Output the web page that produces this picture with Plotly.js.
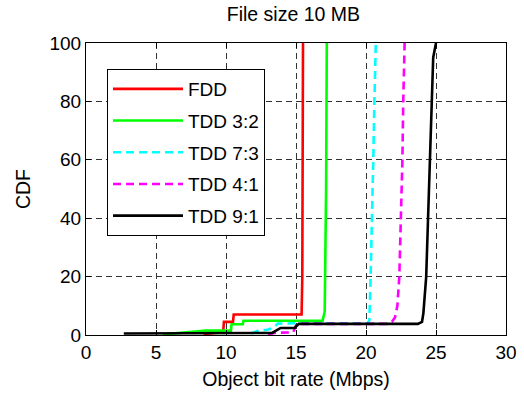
<!DOCTYPE html>
<html>
<head>
<meta charset="utf-8">
<script src="https://cdn.plot.ly/plotly-3.0.1.min.js"></script>
<style>html,body{margin:0;padding:0;background:#fff;}#chart{width:524px;height:396px;}</style>
</head>
<body>
<div id="chart"></div>
<script>
// Series names
const seriesNames = ["FDD", "TDD 3:2", "TDD 7:3", "TDD 4:1", "TDD 9:1"];

// FDD
const fddX = [8.4, 9.3, 9.8, 9.85, 10.5, 10.55, 15.4, 15.45, 15.5];
const fddY = [0.3, 0.7, 1.0, 4.5, 4.5, 7.0, 7.0, 20, 100];

// TDD 3:2
const tdd32X = [5.5, 8.6, 10.35, 10.4, 11.2, 11.25, 16.9, 17.05, 17.15, 17.2];
const tdd32Y = [0.2, 1.5, 1.5, 3.7, 3.7, 4.9, 4.9, 8, 50, 100];

// TDD 7:3
const tdd73X = [11.8, 12.4, 12.9, 13.4, 13.7, 14.8, 20.1, 20.24, 20.33, 20.45, 20.52, 20.6, 20.7];
const tdd73Y = [0.5, 1.7, 1.7, 2.5, 3.9, 4.0, 4.0, 5, 20, 40, 60, 80, 100];

// TDD 4:1
const tdd41X = [13.0, 13.6, 14.8, 15.05, 21.6, 21.85, 22.07, 22.24, 22.38, 22.5, 22.6, 22.66, 22.76];
const tdd41Y = [0.3, 0.8, 0.9, 3.8, 3.8, 4.5, 6, 10, 20, 40, 60, 80, 100];

// TDD 9:1
const tdd91X = [2.7, 12.8, 13.3, 13.9, 14.9, 15.2, 23.7, 24.0, 24.1, 24.3, 24.45, 24.6, 24.7, 24.8, 24.9, 25.0];
const tdd91Y = [0.5, 0.5, 0.7, 2.4, 2.4, 3.8, 3.8, 4.5, 7.5, 20, 40, 60, 80, 95, 98, 100];

const xTicks = [0, 5, 10, 15, 20, 25, 30];
const yTicks = [0, 20, 40, 60, 80, 100];

const xs = [fddX, tdd32X, tdd73X, tdd41X, tdd91X];
const ys = [fddY, tdd32Y, tdd73Y, tdd41Y, tdd91Y];
const colors = ["#ff0000", "#00ff00", "#00ffff", "#ff00ff", "#000000"];
const dashes = ["solid", "solid", "8px,5px", "8px,5px", "solid"];

const FONT = "Liberation Sans, Arial, Helvetica, sans-serif";

const traces = seriesNames.map((n, i) => ({
  type: "scatter", mode: "lines", name: n, x: xs[i], y: ys[i],
  legendgroup: "g" + i,
  line: {color: colors[i], width: 2.6, dash: dashes[i]}
}));

const axisCommon = {
  showline: true, linecolor: "#000", linewidth: 1, mirror: "ticks",
  ticks: "inside", ticklen: 5, tickcolor: "#000", tickwidth: 1,
  showgrid: true, gridcolor: "#333", gridwidth: 1, griddash: "6px,4px",
  zeroline: false, tickfont: {family: FONT, size: 19, color: "#000"}
};

const layout = {
  width: 524, height: 396,
  margin: {l: 86, r: 18, t: 43, b: 61},
  paper_bgcolor: "#fff", plot_bgcolor: "#fff",
  font: {family: FONT, color: "#000"},
  title: {text: "File size 10 MB", font: {family: FONT, size: 19.5, color: "#000"}, x: 0.56, xanchor: "center", y: 0.965, yanchor: "middle"},
  xaxis: Object.assign({}, axisCommon, {
    range: [0, 30], tickvals: xTicks, ticktext: xTicks.map(String),
    title: {text: "Object bit rate (Mbps)", font: {family: FONT, size: 19.5, color: "#000"}, standoff: 10}
  }),
  yaxis: Object.assign({}, axisCommon, {
    range: [0, 100], tickvals: yTicks, ticktext: yTicks.map(String),
    title: {text: "CDF", font: {family: FONT, size: 19.5, color: "#000"}, standoff: 13}
  }),
  showlegend: true,
  legend: {
    x: 0.05, xanchor: "left", y: 0.911, yanchor: "top",
    bgcolor: "#fff", bordercolor: "#000", borderwidth: 1,
    font: {family: FONT, size: 19, color: "#000"},
    traceorder: "grouped", tracegroupgap: 4, itemwidth: 70
  }
};

Plotly.newPlot("chart", traces, layout, {displayModeBar: false, staticPlot: true});
</script>
</body>
</html>
